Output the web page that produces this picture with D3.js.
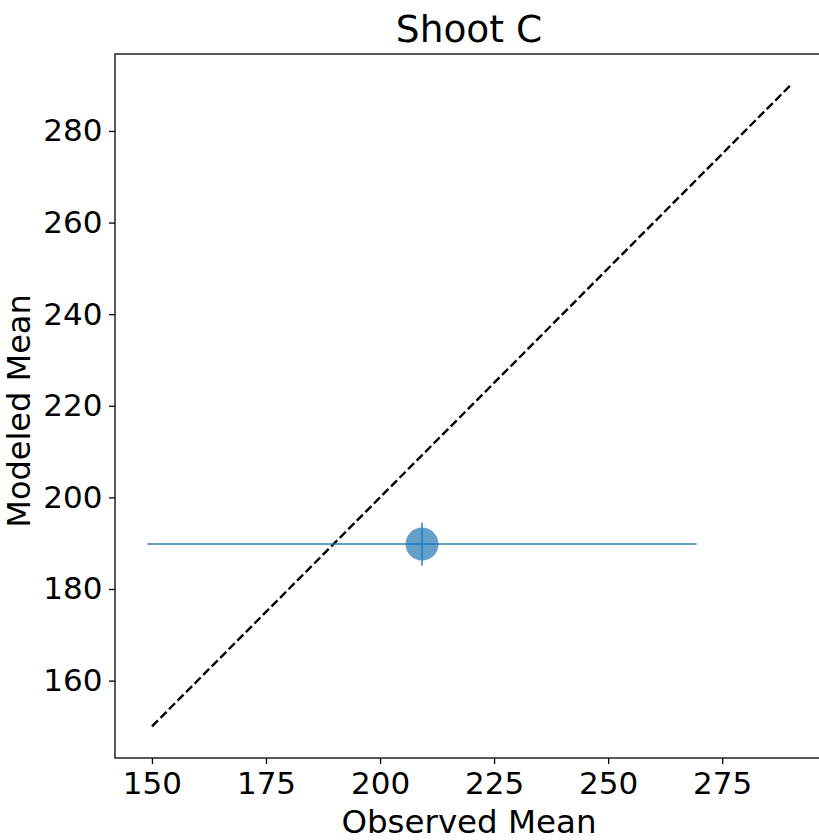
<!DOCTYPE html>
<html>
<head>
<meta charset="utf-8">
<script src="https://cdn.jsdelivr.net/npm/d3@7"></script>
<style>
  html, body { margin: 0; padding: 0; background: #fff; overflow: hidden; }
  svg { display: block; font-family: "DejaVu Sans", sans-serif; }
</style>
</head>
<body>
<svg id="chart" width="819" height="840"></svg>
<script>
// Observed vs modeled mean for shoot C
const title = "Shoot C";
const xLabel = "Observed Mean";
const yLabel = "Modeled Mean";

const observed = [209.2];
const modeled = [189.8];
const observedErr = [60.2];
const modeledErr = [4.7];

// 1:1 reference line endpoints
const identity = [150, 290];

const xTicks = [150, 175, 200, 225, 250, 275];
const yTicks = [160, 180, 200, 220, 240, 260, 280];

const xDomain = [141.9, 297.1];
const yDomain = [143.1, 296.8];

const svg = d3.select("#chart");
const box = { left: 115, right: 823, top: 54, bottom: 758 };

const x = d3.scaleLinear().domain(xDomain).range([box.left, box.right]);
const y = d3.scaleLinear().domain(yDomain).range([box.bottom, box.top]);

const blue = "#1f77b4";

// identity line
svg.append("line")
  .attr("x1", x(identity[0])).attr("y1", y(identity[0]))
  .attr("x2", x(identity[1])).attr("y2", y(identity[1]))
  .attr("stroke", "#000").attr("stroke-width", 2.4)
  .attr("stroke-dasharray", "8.5,3.6");

// error bars and markers
const pts = observed.map((v, i) => ({ x: v, y: modeled[i], xe: observedErr[i], ye: modeledErr[i] }));
const g = svg.append("g");
pts.forEach(p => {
  g.append("line")
    .attr("x1", x(p.x - p.xe)).attr("x2", x(p.x + p.xe))
    .attr("y1", y(p.y)).attr("y2", y(p.y))
    .attr("stroke", blue).attr("stroke-opacity", 0.7).attr("stroke-width", 2);
  g.append("line")
    .attr("x1", x(p.x)).attr("x2", x(p.x))
    .attr("y1", y(p.y - p.ye)).attr("y2", y(p.y + p.ye))
    .attr("stroke", blue).attr("stroke-opacity", 0.7).attr("stroke-width", 2);
  g.append("circle")
    .attr("cx", x(p.x)).attr("cy", y(p.y)).attr("r", 16.5)
    .attr("fill", blue).attr("fill-opacity", 0.7);
});

// axes
const xAxis = d3.axisBottom(x).tickValues(xTicks).tickSize(6).tickPadding(7.5).tickFormat(d3.format("d"));
const yAxis = d3.axisLeft(y).tickValues(yTicks).tickSize(6).tickPadding(6.5).tickFormat(d3.format("d"));

const gx = svg.append("g").attr("transform", `translate(0,${box.bottom})`).call(xAxis);
const gy = svg.append("g").attr("transform", `translate(${box.left},0)`).call(yAxis);
[gx, gy].forEach(a => {
  a.select(".domain").remove();
  a.selectAll(".tick line").attr("stroke", "#000").attr("stroke-width", 1.3);
  a.selectAll(".tick text").attr("fill", "#000").style("font-size", "31px")
    .style("font-family", "'DejaVu Sans', sans-serif");
});

// frame
svg.append("rect")
  .attr("x", box.left).attr("y", box.top)
  .attr("width", box.right - box.left).attr("height", box.bottom - box.top)
  .attr("fill", "none").attr("stroke", "#000").attr("stroke-width", 1.3);

// labels
svg.append("text")
  .attr("x", (box.left + box.right) / 2).attr("y", 42)
  .attr("text-anchor", "middle").style("font-size", "37.5px").text(title);

svg.append("text")
  .attr("x", (box.left + box.right) / 2).attr("y", 833)
  .attr("text-anchor", "middle").style("font-size", "32.5px").text(xLabel);

svg.append("text")
  .attr("transform", `translate(30,411) rotate(-90)`)
  .attr("text-anchor", "middle").style("font-size", "32px").text(yLabel);
</script>
</body>
</html>
